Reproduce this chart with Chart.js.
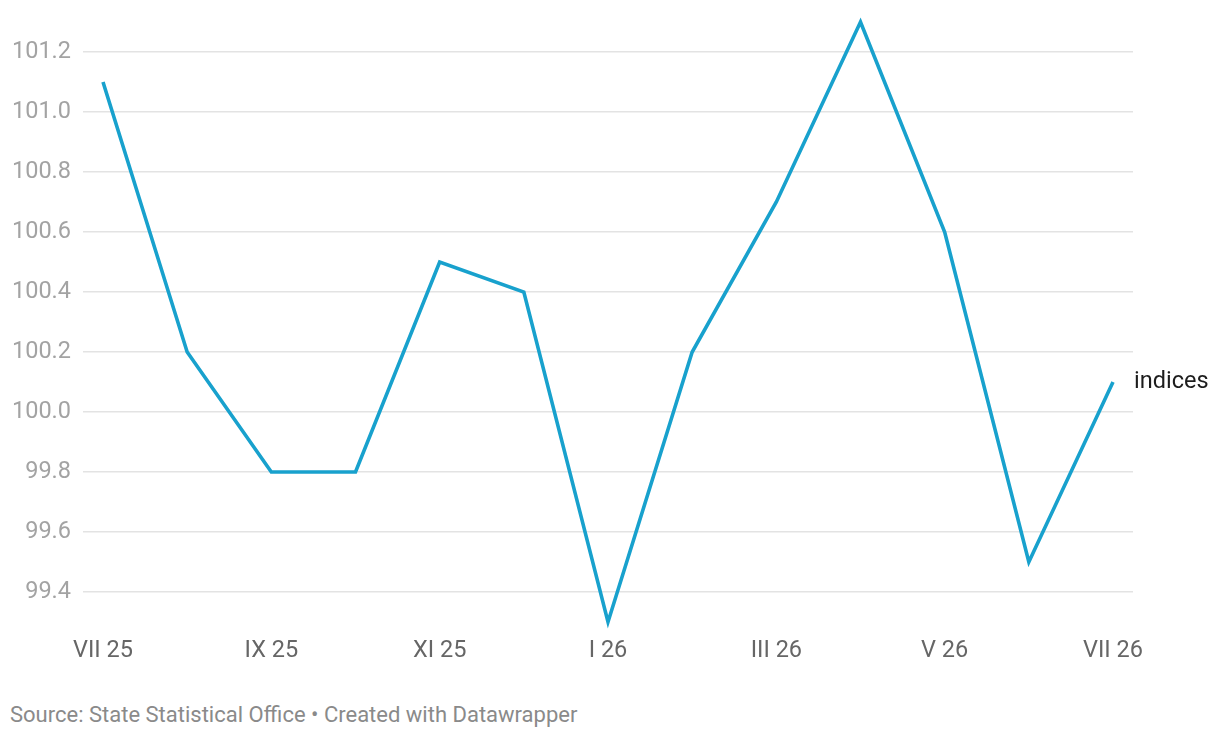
<!DOCTYPE html>
<html><head><meta charset="utf-8">
<script src="https://cdn.jsdelivr.net/npm/chart.js@4"></script>
<style>
html,body{margin:0;padding:0;background:#fff;width:1220px;height:738px;overflow:hidden;font-family:Roboto,sans-serif}
#wrap{position:absolute;left:0;top:0;width:1220px;height:680px}
#src{position:absolute;left:10px;top:702px;font-size:22px;color:#8a8a8a;font-family:Roboto,sans-serif;white-space:nowrap}
</style></head><body>
<div id="wrap"><canvas id="c" width="1220" height="680"></canvas></div>
<div id="src">Source: State Statistical Office • Created with Datawrapper</div>
<script>
const months = ["VII 25","VIII 25","IX 25","X 25","XI 25","XII 25","I 26","II 26","III 26","IV 26","V 26","VI 26","VII 26"];
const indices = [101.1,100.2,99.8,99.8,100.5,100.4,99.3,100.2,100.7,101.3,100.6,99.5,100.1];
const xTickIdx = [0,2,4,6,8,10,12];
const yTicks = [99.4,99.6,99.8,100.0,100.2,100.4,100.6,100.8,101.0,101.2];
const seriesName = "indices";

const endLabel = {
  id:'endLabel',
  afterDatasetsDraw(chart){
    const meta = chart.getDatasetMeta(0);
    const p = meta.data[meta.data.length-1];
    const ctx = chart.ctx;
    ctx.save();
    ctx.font = '23.5px Roboto';
    ctx.fillStyle = '#1d1d1d';
    ctx.textAlign = 'left';
    ctx.textBaseline = 'middle';
    ctx.fillText(seriesName, p.x + 21, p.y);
    ctx.restore();
  }
};

new Chart(document.getElementById('c'), {
  type:'line',
  data:{
    datasets:[{
      label:seriesName,
      data: indices.map((v,i)=>({x:i,y:v})),
      borderColor:'#18a1cd',
      borderWidth:3.6,
      pointRadius:0,
      tension:0,
      clip:false
    }]
  },
  options:{
    responsive:false,
    animation:false,
    layout:{padding:{top:22,right:87,left:0,bottom:0}},
    plugins:{legend:{display:false},tooltip:{enabled:false}},
    scales:{
      x:{
        type:'linear',
        min:-0.2376, max:12.2376,
        afterBuildTicks(s){ s.ticks = xTickIdx.map(v=>({value:v})); },
        afterFit(s){ s.height = 58; },
        grid:{display:false},
        border:{display:false},
        ticks:{
          autoSkip:false, maxRotation:0,
          padding:7,
          color:'#666',
          font:{family:'Roboto',size:23.5},
          callback:(v)=>months[v]
        }
      },
      y:{
        min:99.3, max:101.3,
        afterBuildTicks(s){ s.ticks = yTicks.map(v=>({value:v})); },
        afterFit(s){ s.width = 83; s.paddingTop = 0; s.paddingBottom = 0; },
        grid:{color:'#e3e3e3',lineWidth:1.5,drawTicks:false},
        border:{display:false},
        ticks:{
          padding:12,
          color:'#a3a3a3',
          font:{family:'Roboto',size:23.5},
          callback:(v)=>v.toFixed(1)
        }
      }
    }
  },
  plugins:[endLabel]
});
</script>
</body></html>
